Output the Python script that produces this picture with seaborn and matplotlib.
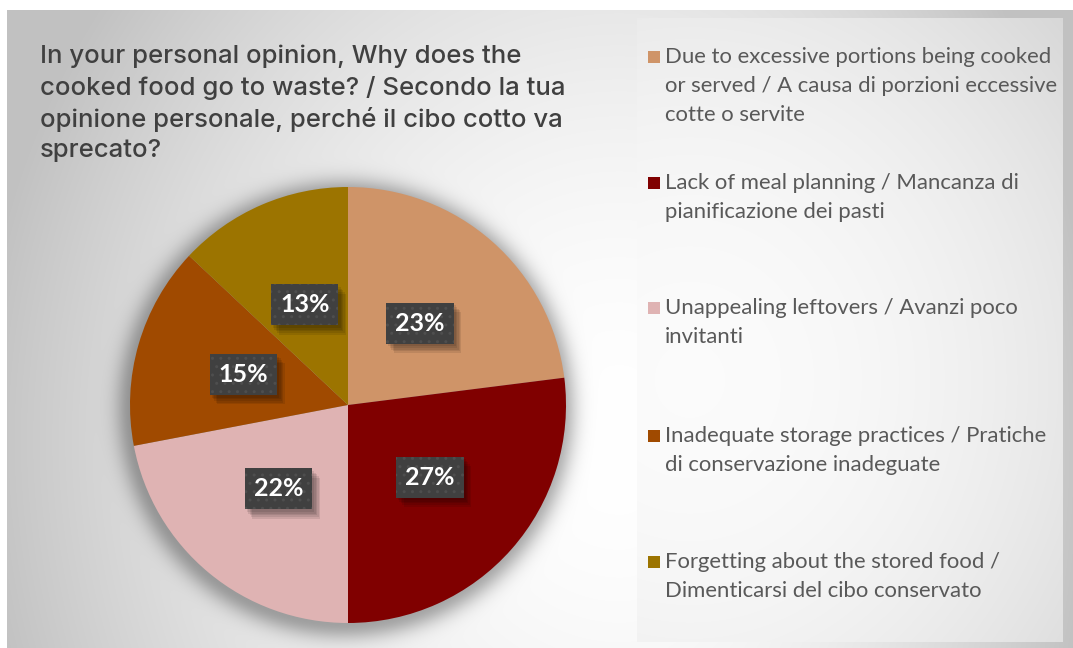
import numpy as np
import matplotlib
matplotlib.use("Agg")
import matplotlib.pyplot as plt
from matplotlib import patheffects as pe
from matplotlib.patches import Rectangle
import seaborn as sns

# ---- data -------------------------------------------------------------
title = ("In your personal opinion, Why does the\n"
         "cooked food go to waste? / Secondo la tua\n"
         "opinione personale, perché il cibo cotto va\n"
         "sprecato?")
categories = [
    "Due to excessive portions being cooked\nor served / A causa di porzioni eccessive\ncotte o servite",
    "Lack of meal planning / Mancanza di\npianificazione dei pasti",
    "Unappealing leftovers / Avanzi poco\ninvitanti",
    "Inadequate storage practices / Pratiche\ndi conservazione inadeguate",
    "Forgetting about the stored food /\nDimenticarsi del cibo conservato",
]
shares = [23, 27, 22, 15, 13]
colors = ["#CF9468", "#800000", "#DFB3B3", "#A04A00", "#9C7400"]


class PlainShadow(pe.AbstractPathEffect):
    """Flat offset shadow that ignores the hatch of the patch it follows."""

    def __init__(self, offset=(2, -2), color="black", alpha=0.3):
        super().__init__(offset)
        self._color = color
        self._alpha = alpha

    def draw_path(self, renderer, gc, tpath, affine, rgbFace=None):
        gc0 = renderer.new_gc()
        gc0.copy_properties(gc)
        gc0.set_hatch(None)
        gc0.set_linewidth(0)
        gc0.set_alpha(self._alpha)
        renderer.draw_path(gc0, tpath, affine + self._offset_transform(renderer),
                           matplotlib.colors.to_rgb(self._color))
        gc0.restore()


# ---- style ------------------------------------------------------------
sns.set_theme(style="white")
plt.rcParams["font.family"] = ["Lato", "DejaVu Sans"]
palette = sns.color_palette(colors)

W, H = 1073, 648
fig = plt.figure(figsize=(W / 100, H / 100), dpi=100)
fig.patch.set_facecolor("white")

# ---- background panel with soft radial shading ---------------------------
bg = fig.add_axes([0, 0, 1, 1], zorder=0)
bg.set_xlim(0, W)
bg.set_ylim(H, 0)
bg.axis("off")

yy, xx = np.mgrid[0:H, 0:W] + 0.5
cx, cy = 620, 440
sx = np.where(xx < cx, 612.0, 450.0)
d = np.clip(np.hypot((xx - cx) / sx, (yy - cy) / 700.0), 0, 1.05)
shade = 1 - 0.22 * d ** 1.8
img = np.dstack([shade] * 3)
panel_top, panel_left = 10, 7
img[:panel_top, :, :] = 1.0
img[:, :panel_left, :] = 1.0

# legend box, its own lighter shading
lx0, lx1, ly0, ly1 = 637, 1063, 18, 642
ly, lx = np.mgrid[ly0:ly1, lx0:lx1] + 0.5
dl = np.hypot((lx - 690) / 520.0, (ly - 380) / 560.0)
lshade = 0.985 - 0.15 * np.clip(dl, 0, 1.1) ** 2
img[ly0:ly1, lx0:lx1, :] = lshade[..., None]

# soft shadow behind the pie
pcx, pcy, R = 348, 405, 218
r = np.hypot(xx - (pcx - 2), yy - (pcy + 4))
shadow_alpha = 0.32 * np.exp(-np.clip(r - R + 4, 0, None) ** 2 / (2 * 12.0 ** 2))
img = img * (1 - shadow_alpha[..., None])

bg.imshow(np.clip(img, 0, 1), extent=(0, W, H, 0), interpolation="bilinear",
          aspect="auto")

# ---- pie ----------------------------------------------------------------
ax = fig.add_axes([(pcx - R) / W, (H - pcy - R) / H, 2 * R / W, 2 * R / H],
                  zorder=2)
wedges, _, autotexts = ax.pie(
    shares, colors=palette, startangle=90, counterclock=False, radius=1,
    autopct=lambda p: f"{p:.0f}%", pctdistance=0.5,
    wedgeprops=dict(linewidth=0),
    textprops=dict(color="white", fontsize=18, fontweight="bold"),
)
ax.set_xlim(-1, 1)
ax.set_ylim(-1, 1)
ax.set_aspect("equal")
ax.axis("off")

box_shadow = [PlainShadow(offset=(o, -1.2 * o), color="black", alpha=0.09)
              for o in (1.5, 2.5, 3.5, 4.5, 5.5)]
for t in autotexts:
    t.set_bbox(dict(boxstyle="square,pad=0.36", facecolor="#404040",
                    edgecolor="#4e4e4e", linewidth=0, hatch=".."))
    t.get_bbox_patch().set_path_effects(box_shadow + [pe.Normal()])

# ---- title --------------------------------------------------------------
fig.text(40 / W, 1 - 45 / H, title, ha="left", va="top", fontsize=18.5,
         color="#404040", fontweight="medium", linespacing=1.37,
         family=["Inter", "DejaVu Sans"])

# ---- legend -------------------------------------------------------------
first_line_y = [57, 183, 308, 436, 562]
for label, col, y0 in zip(categories, palette, first_line_y):
    bg.add_patch(Rectangle((648, y0 - 6), 12, 12, facecolor=col, edgecolor="none",
                           zorder=3))
    bg.text(665, y0 - 10, label, ha="left", va="top", fontsize=15.9,
            color="#595959", linespacing=1.55, zorder=3)

fig.savefig("out.png", dpi=100)
